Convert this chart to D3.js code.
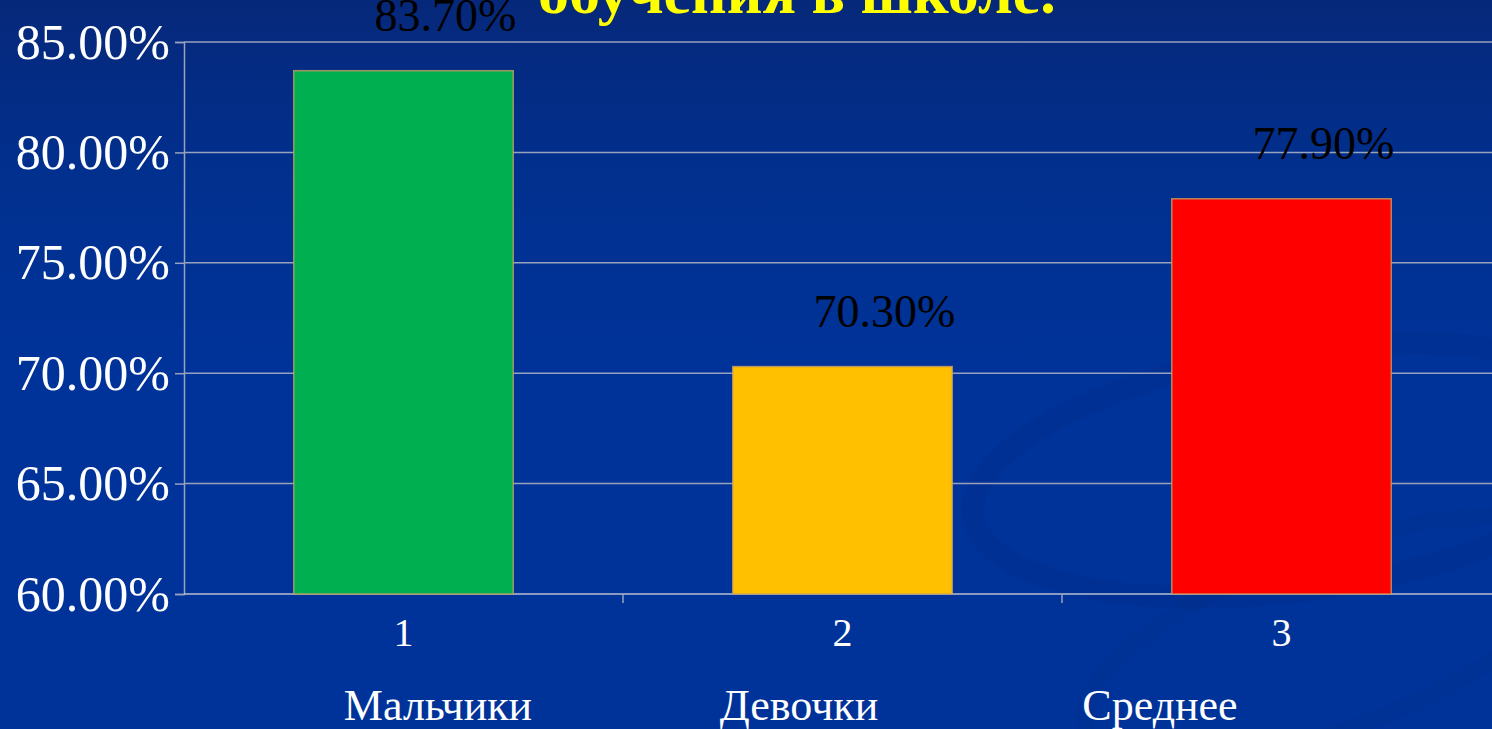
<!DOCTYPE html>
<html><head><meta charset="utf-8">
<script src="https://cdn.jsdelivr.net/npm/d3@7"></script>
<style>html,body{margin:0;padding:0;background:#003399;overflow:hidden}</style>
</head><body><svg id="c" width="1492" height="729"></svg>
<script>
const categories = ["1", "2", "3"];
const groupNames = ["Мальчики", "Девочки", "Среднее"];
const values = [83.7, 70.3, 77.9];
const barColors = ["#00b050", "#ffc000", "#ff0000"];
const yTicks = [60, 65, 70, 75, 80, 85];
const titleText = "обучения в школе.";

(function(){
const W = 1492, H = 729;
const svg = d3.select("#c");
const defs = svg.append("defs");
const g1 = defs.append("linearGradient").attr("id","bg").attr("x1",0).attr("y1",0).attr("x2",0).attr("y2",1);
g1.append("stop").attr("offset","0").attr("stop-color","#06287a");
g1.append("stop").attr("offset","0.25").attr("stop-color","#01308f");
g1.append("stop").attr("offset","0.5").attr("stop-color","#003399");
g1.append("stop").attr("offset","1").attr("stop-color","#003399");
svg.append("rect").attr("width",W).attr("height",H).attr("fill","url(#bg)");

// faint decorative swoosh
svg.append("ellipse").attr("cx",1300).attr("cy",470).attr("rx",330).attr("ry",120)
  .attr("fill","none").attr("stroke","#002e8e").attr("stroke-width",22).attr("opacity",0.5)
  .attr("transform","rotate(-8 1300 470)");
svg.append("ellipse").attr("cx",1330).attr("cy",640).attr("rx",260).attr("ry",90)
  .attr("fill","none").attr("stroke","#002e8e").attr("stroke-width",16).attr("opacity",0.45)
  .attr("transform","rotate(-20 1330 640)");

const mLeft = 184, mTop = 42, mBottom = 594;
const x = d3.scaleBand().domain(categories).range([mLeft, mLeft + 3*439]).paddingInner(0.5).paddingOuter(0.25);
const y = d3.scaleLinear().domain([60, 85]).range([mBottom, mTop]);

// gridlines
svg.append("g").selectAll("line").data(yTicks.filter(d => d > 60)).join("line")
  .attr("x1", mLeft).attr("x2", W).attr("y1", d => y(d)).attr("y2", d => y(d))
  .attr("stroke", "#98a2bd").attr("stroke-width", 1.5);

// y axis
const yAxis = d3.axisLeft(y).tickValues(yTicks).tickSize(9).tickFormat(d => d.toFixed(2) + "%");
const ya = svg.append("g").attr("transform", `translate(${mLeft},0)`).call(yAxis);
ya.select(".domain").attr("stroke", "#98a2bd").attr("stroke-width", 1.5);
ya.selectAll(".tick line").attr("stroke", "#98a2bd").attr("stroke-width", 1.5);
ya.selectAll(".tick text").attr("fill", "#ffffff").attr("font-family", "'Liberation Serif', serif")
  .attr("font-size", 50).attr("x", -14).attr("dy", "0.32em");

// x axis line and ticks between categories
svg.append("line").attr("x1", mLeft).attr("x2", W).attr("y1", mBottom).attr("y2", mBottom)
  .attr("stroke", "#b8bfd2").attr("stroke-width", 1.5);
const sep = d => x(d) - x.step()*x.paddingInner()/2;
svg.append("g").selectAll("line").data(categories.slice(1)).join("line")
  .attr("x1", sep).attr("x2", sep)
  .attr("y1", mBottom).attr("y2", mBottom + 9)
  .attr("stroke", "#98a2bd").attr("stroke-width", 1.5);

// bars
svg.append("g").selectAll("rect").data(values).join("rect")
  .attr("x", (d,i) => x(categories[i])).attr("width", x.bandwidth())
  .attr("y", d => y(d)).attr("height", d => y(60) - y(d))
  .attr("fill", (d,i) => barColors[i])
  .attr("stroke", "#c8a060").attr("stroke-width", 1.5).attr("stroke-opacity", 0.8);

// value labels
svg.append("g").selectAll("text").data(values).join("text")
  .attr("x", (d,i) => x(categories[i]) + x.bandwidth()/2 + 42)
  .attr("y", d => y(d) - 40)
  .attr("text-anchor", "middle").attr("fill", "#000000")
  .attr("font-family", "'Liberation Serif', serif").attr("font-size", 46)
  .text(d => d.toFixed(2) + "%");

// category number labels
svg.append("g").selectAll("text").data(categories).join("text")
  .attr("x", d => x(d) + x.bandwidth()/2).attr("y", mBottom + 52)
  .attr("text-anchor", "middle").attr("fill", "#ffffff")
  .attr("font-family", "'Liberation Serif', serif").attr("font-size", 40)
  .text(d => d);

// group names row (separate text box in original)
const xn = d3.scalePoint().domain(groupNames).range([mLeft + 254, mLeft + 976]);
svg.append("g").selectAll("text").data(groupNames).join("text")
  .attr("x", d => xn(d)).attr("y", 720)
  .attr("text-anchor", "middle").attr("fill", "#ffffff")
  .attr("font-family", "'Liberation Serif', serif").attr("font-size", 44)
  .text(d => d);

// title (cut at top, as in the reference)
svg.append("text").attr("x", 538).attr("y", 13)
  .attr("fill", "#ffff00").attr("font-family", "'Liberation Serif', serif")
  .attr("font-weight", "bold").attr("font-size", 62)
  .text(titleText);
})();
</script></body></html>
